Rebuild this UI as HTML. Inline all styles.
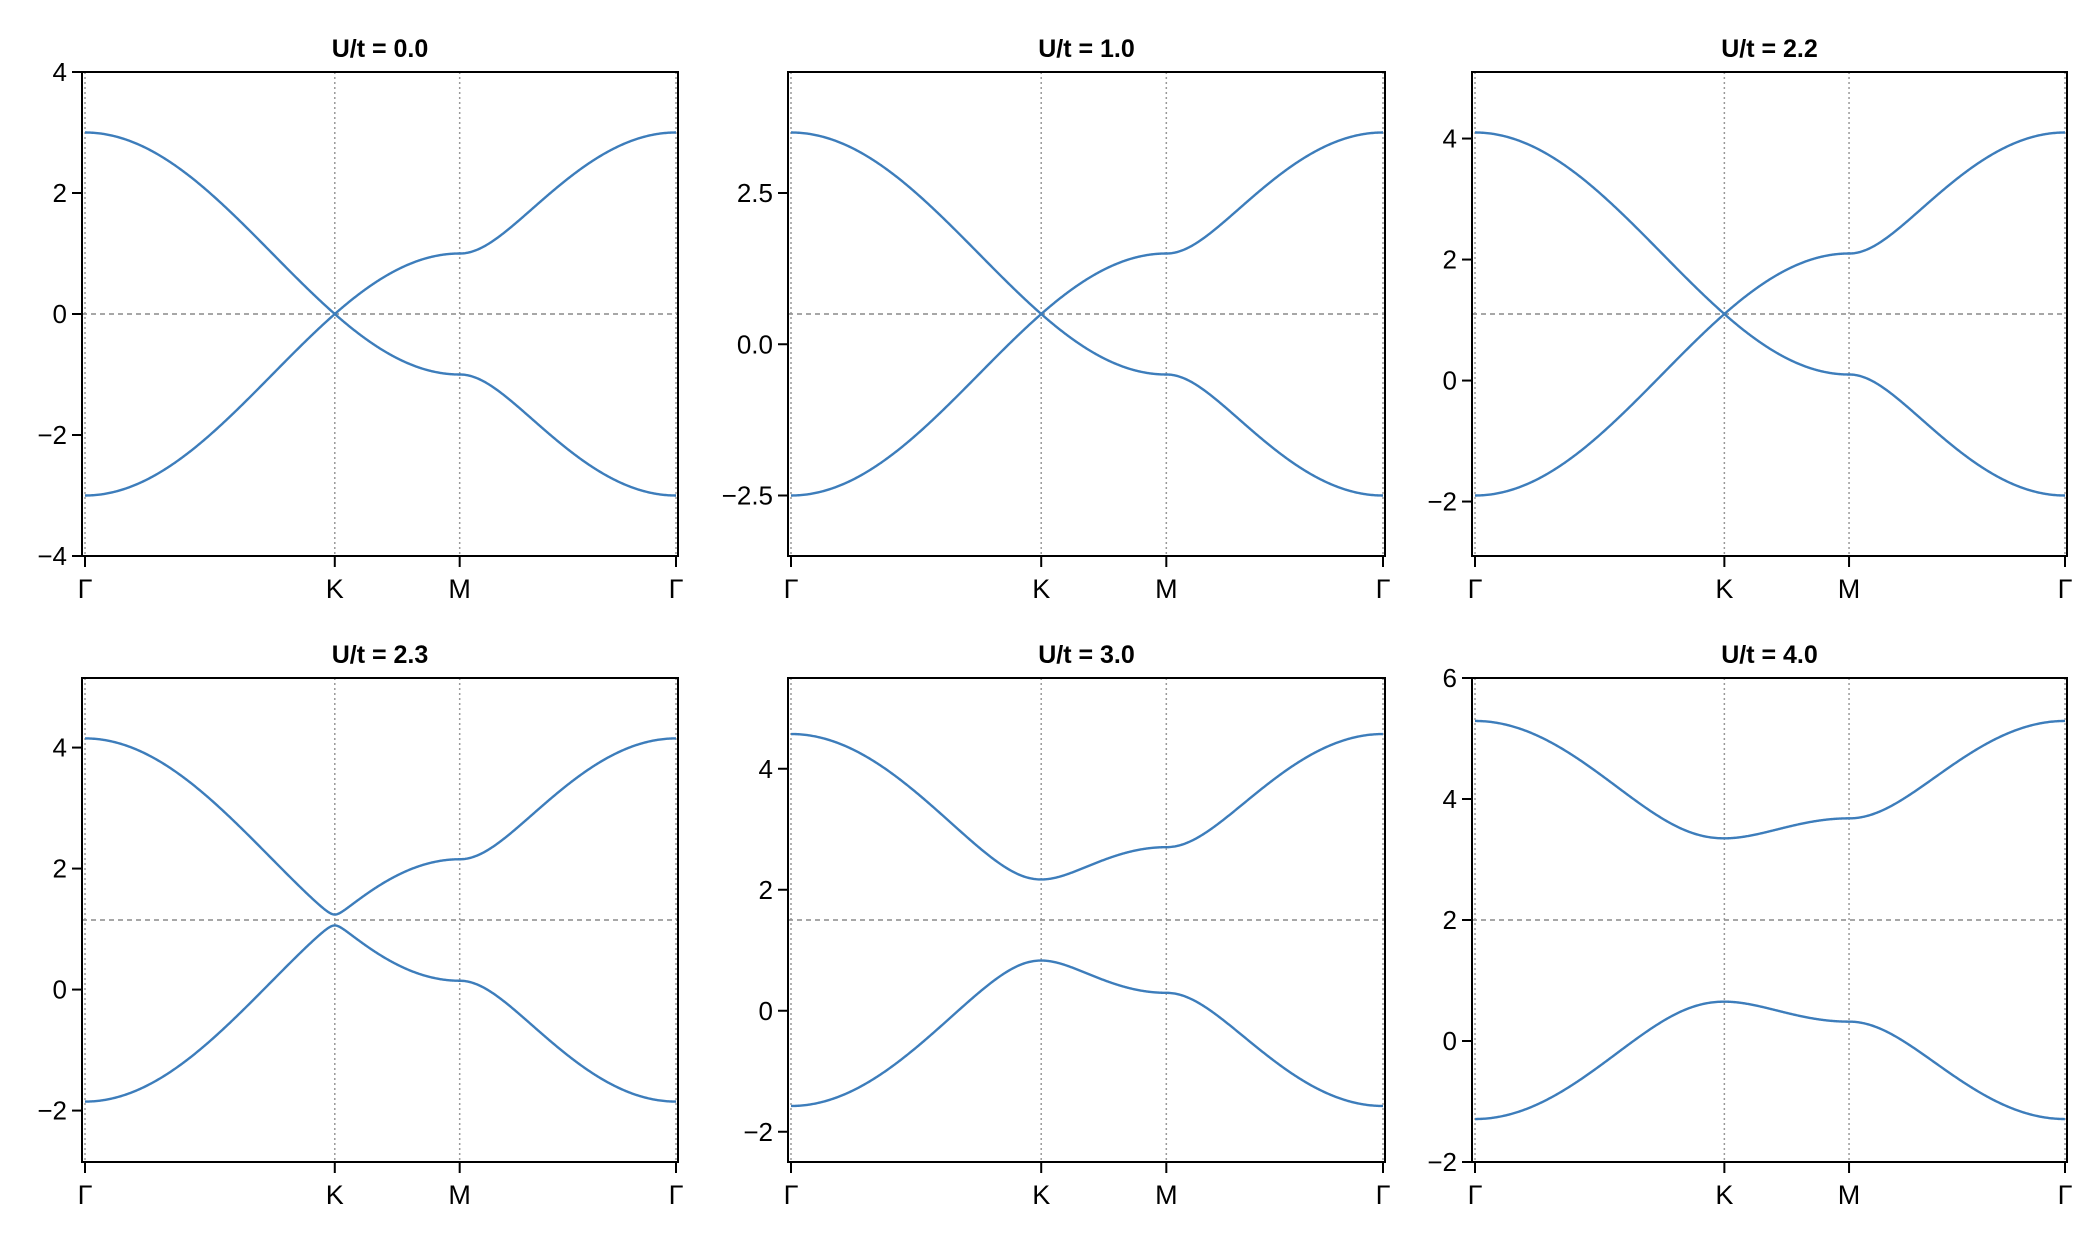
<!DOCTYPE html>
<html><head><meta charset="utf-8"><style>
html,body{margin:0;padding:0;background:#fff;}
svg{display:block;}
text{font-family:"Liberation Sans",Arial,sans-serif;fill:#000;}
</style></head><body>
<svg id="s" width="2100" height="1240" xmlns="http://www.w3.org/2000/svg"></svg>
<script>
const S=document.getElementById('s');
const panels=[
 {L:82,R:678,T:72,B:556,U:0.0,d:0,ymin:-4,ymax:4,ticks:[-4,-2,0,2,4],fmt:0},
 {L:788,R:1385,T:72,B:556,U:1.0,d:0,ymin:-3.5,ymax:4.5,ticks:[-2.5,0,2.5],fmt:1},
 {L:1472,R:2067,T:72,B:556,U:2.2,d:0,ymin:-2.9,ymax:5.1,ticks:[-2,0,2,4],fmt:0},
 {L:82,R:678,T:678,B:1162,U:2.3,d:0.09,ymin:-2.85,ymax:5.15,ticks:[-2,0,2,4],fmt:0},
 {L:788,R:1385,T:678,B:1162,U:3.0,d:0.67,ymin:-2.5,ymax:5.5,ticks:[-2,0,2,4],fmt:0},
 {L:1472,R:2067,T:678,B:1162,U:4.0,d:1.35,ymin:-2,ymax:6,ticks:[-2,0,2,4,6],fmt:0}
];
const PI=Math.PI,s3=Math.sqrt(3);
const G=[0,0],K=[2*PI/3,-2*PI/s3],M=[PI,-PI/s3];
const segs=[[G,K],[K,M],[M,G]];
const lens=segs.map(([a,b])=>Math.hypot(b[0]-a[0],b[1]-a[1]));
const tot=lens.reduce((a,b)=>a+b,0);
const pts=[];let acc=0;
segs.forEach(([a,b],i)=>{const n=200;for(let j=0;j<=n;j++){const t=j/n;const kx=a[0]+(b[0]-a[0])*t,ky=a[1]+(b[1]-a[1])*t;
 const f2=3+2*Math.cos(kx)+2*Math.cos(kx/2+ky*s3/2)+2*Math.cos(kx/2-ky*s3/2);
 pts.push([(acc+lens[i]*t)/tot,Math.sqrt(Math.max(0,f2))]);}acc+=lens[i];});
const fracs=[0,lens[0]/tot,(lens[0]+lens[1])/tot,1];
const labs=['Γ','K','M','Γ'];
let h='';
const fmtN=(v,f)=>{let s=v.toFixed(f);return s.replace('-','−');};
panels.forEach(p=>{
 const x0=p.L+3,x1=p.R-2;
 const X=f=>x0+(x1-x0)*f;
 const Y=v=>p.B-(v-p.ymin)/(p.ymax-p.ymin)*(p.B-p.T);
 const sh=p.U/2;
 fracs.forEach(f=>{h+=`<line x1="${X(f)}" y1="${p.T}" x2="${X(f)}" y2="${p.B}" stroke="#999" stroke-width="1.5" stroke-dasharray="2,3"/>`;});
 h+=`<line x1="${p.L}" y1="${Y(sh)}" x2="${p.R}" y2="${Y(sh)}" stroke="#8a8a8a" stroke-width="1.5" stroke-dasharray="5,4"/>`;
 [1,-1].forEach(sg=>{let d='';pts.forEach((q,i)=>{const e=sh+sg*Math.sqrt(q[1]*q[1]+p.d*p.d);d+=(i?'L':'M')+X(q[0]).toFixed(2)+','+Y(e).toFixed(2);});
  h+=`<path d="${d}" fill="none" stroke="#3d7dbb" stroke-width="2.4"/>`;});
 h+=`<rect x="${p.L}" y="${p.T}" width="${p.R-p.L}" height="${p.B-p.T}" fill="none" stroke="#000" stroke-width="2"/>`;
 p.ticks.forEach(v=>{const y=Y(v);h+=`<line x1="${p.L-10}" y1="${y}" x2="${p.L}" y2="${y}" stroke="#000" stroke-width="2"/>`;
  h+=`<text x="${p.L-15}" y="${y+9}" font-size="26" text-anchor="end">${fmtN(v,p.fmt)}</text>`;});
 fracs.forEach((f,i)=>{const x=X(f);h+=`<line x1="${x}" y1="${p.B}" x2="${x}" y2="${p.B+11}" stroke="#000" stroke-width="2"/>`;
  h+=`<text x="${x}" y="${p.B+42}" font-size="27" text-anchor="middle">${labs[i]}</text>`;});
 h+=`<text x="${(p.L+p.R)/2}" y="${p.T-15}" font-size="25" font-weight="bold" text-anchor="middle">U/t = ${p.U.toFixed(1)}</text>`;
});
S.innerHTML=h;
</script>
</body></html>
